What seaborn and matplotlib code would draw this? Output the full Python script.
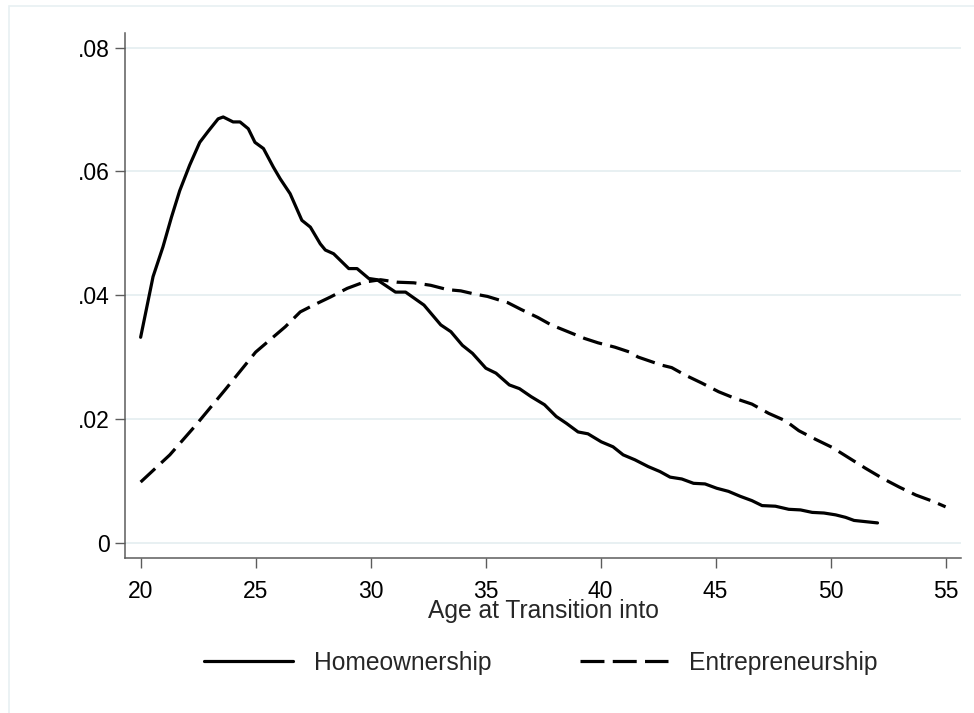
import numpy as np
import pandas as pd
import seaborn as sns
import matplotlib
matplotlib.use("Agg")
from matplotlib import pyplot as plt
from matplotlib.patches import Rectangle

# densities
home_age = [20.0, 20.54, 20.97, 21.34, 21.70, 22.13, 22.57, 22.94, 23.37, 23.59, 24.02, 24.32, 24.68,
            24.97, 25.34, 25.77, 26.07, 26.50, 27.01, 27.38, 27.81, 28.03, 28.39, 29.05, 29.41, 29.92,
            30.28, 31.08, 31.52, 32.32, 33.05, 33.49, 33.99, 34.43, 35.01, 35.45, 36.03, 36.47, 36.98,
            37.56, 38.07, 38.51, 39.02, 39.45, 40.03, 40.54, 40.98, 41.49, 42.07, 42.58, 43.02, 43.53,
            44.04, 44.54, 45.05, 45.56, 46.07, 46.58, 47.02, 47.60, 48.18, 48.69, 49.20, 49.71, 50.22,
            50.65, 51.02, 51.53, 52.04]
home_dens = [0.0332, 0.0430, 0.0478, 0.0526, 0.0569, 0.0610, 0.0647, 0.0665, 0.0685, 0.0688, 0.0680,
             0.0680, 0.0669, 0.0647, 0.0637, 0.0607, 0.0588, 0.0564, 0.0521, 0.0510, 0.0483, 0.0473,
             0.0467, 0.0443, 0.0443, 0.0427, 0.0425, 0.0405, 0.0405, 0.0384, 0.0352, 0.0341, 0.0319,
             0.0306, 0.0282, 0.0274, 0.0255, 0.0249, 0.0236, 0.0223, 0.0204, 0.0193, 0.0179, 0.0176,
             0.0163, 0.0155, 0.0142, 0.0134, 0.0123, 0.0115, 0.0106, 0.0103, 0.0096, 0.0095, 0.0088,
             0.0083, 0.0075, 0.0068, 0.0060, 0.0059, 0.0054, 0.0053, 0.0049, 0.0048, 0.0045, 0.0041,
             0.0036, 0.0034, 0.0032]

entr_age = [20.0, 21.27, 22.4, 23.67, 25.0, 26.29, 26.94, 27.52, 28.25, 28.98, 29.70, 30.43, 31.16,
            31.88, 32.61, 33.34, 33.92, 34.50, 35.08, 35.96, 36.54, 37.27, 37.85, 38.58, 39.31, 39.89,
            40.62, 41.27, 41.63, 42.65, 43.09, 43.67, 44.40, 45.13, 45.86, 46.58, 47.31, 48.04, 48.62,
            49.35, 50.07, 50.80, 51.53, 52.26, 52.98, 53.71, 54.44, 55.0]
entr_dens = [0.0098, 0.0142, 0.0190, 0.0247, 0.0308, 0.0349, 0.0373, 0.0384, 0.0397, 0.0411, 0.0421,
             0.0425, 0.0421, 0.0420, 0.0416, 0.0409, 0.0407, 0.0402, 0.0398, 0.0388, 0.0377, 0.0364,
             0.0352, 0.0341, 0.0330, 0.0323, 0.0316, 0.0308, 0.0300, 0.0287, 0.0283, 0.0271, 0.0258,
             0.0244, 0.0233, 0.0224, 0.0209, 0.0197, 0.0181, 0.0167, 0.0154, 0.0137, 0.0120, 0.0104,
             0.0090, 0.0077, 0.0067, 0.0058]

x_ticks = [20, 25, 30, 35, 40, 45, 50, 55]
y_ticks = [0, 0.02, 0.04, 0.06, 0.08]
y_ticklabels = ["0", ".02", ".04", ".06", ".08"]

df = pd.concat([
    pd.DataFrame({"age": home_age, "density": home_dens, "series": "Homeownership"}),
    pd.DataFrame({"age": entr_age, "density": entr_dens, "series": "Entrepreneurship"}),
])

sns.set_style("white")
plt.rcParams["font.family"] = ["Liberation Sans", "DejaVu Sans"]

grid_c = "#e8f0f2"
axis_c = "#5c5c5c"
lw = 2.3

fig = plt.figure(figsize=(9.74, 7.13), dpi=100)
# light outer frame like the Stata graph region
fig.patches.append(Rectangle((9 / 974, -0.01), 1.0, 1 - 6 / 713 + 0.01, transform=fig.transFigure,
                             fill=False, edgecolor=grid_c, linewidth=1.2))
ax = fig.add_axes([125 / 974, 1 - 558 / 713, (961 - 125) / 974, (558 - 33) / 713])

sns.lineplot(data=df, x="age", y="density", style="series", color="black", linewidth=lw,
             dashes={"Homeownership": "", "Entrepreneurship": (6.2, 2.6)},
             sort=False, estimator=None, ax=ax, legend=False)

ax.set_xlim(19.32, 55.67)
ax.set_ylim(-0.00247, 0.08237)
ax.set_xticks(x_ticks)
ax.set_yticks(y_ticks)
ax.set_yticklabels(y_ticklabels)
for y in y_ticks:
    ax.axhline(y, color=grid_c, linewidth=1.4, zorder=0)
for s in ["top", "right"]:
    ax.spines[s].set_visible(False)
for s in ["left", "bottom"]:
    ax.spines[s].set_color(axis_c)
    ax.spines[s].set_linewidth(1.1)
ax.tick_params(axis="both", length=7, width=1.0, color=axis_c, labelsize=16.5, labelcolor="black",
               direction="out", left=True, bottom=True)
ax.tick_params(axis="x", pad=8.5)
ax.tick_params(axis="y", pad=4)
ax.set_xlabel("Age at Transition into", fontsize=17.7, labelpad=-2.5)
ax.set_ylabel("")

handles = [plt.Line2D([], [], color="black", linewidth=lw),
           plt.Line2D([], [], color="black", linewidth=lw, dashes=(7.5, 2.6))]
fig.legend(handles, ["Homeownership", "Entrepreneurship"], loc="center", ncol=2,
           bbox_to_anchor=(541 / 974, 1 - 663 / 713), frameon=False, fontsize=17.7,
           handlelength=3.6, handletextpad=0.85, columnspacing=3.6)

fig.savefig("out.png", dpi=100)
